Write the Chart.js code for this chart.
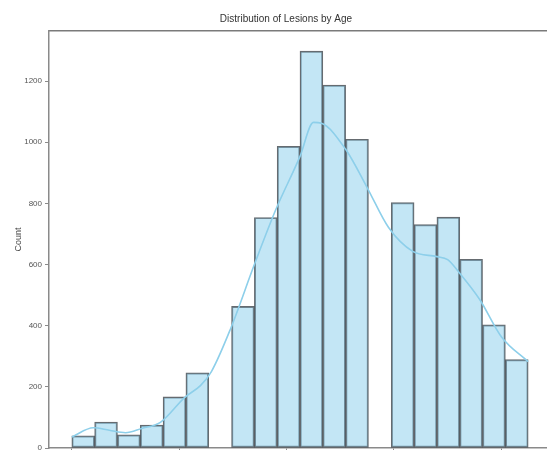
<!DOCTYPE html>
<html lang="en">
<head>
    <meta charset="UTF-8">
    <title>Distribution of Lesions by Age</title>
    <script src="https://cdn.jsdelivr.net/npm/chart.js@4.4.1/dist/chart.umd.min.js"></script>
    <style>
        * { margin: 0; padding: 0; box-sizing: border-box; }
        html, body {
            width: 547px;
            height: 450px;
            overflow: hidden;
            background: #ffffff;
        }
        .chart-wrapper {
            position: relative;
            width: 572px;
            height: 480px;
        }
    </style>
</head>
<body>
    <div class="chart-wrapper">
        <canvas id="ageChart"></canvas>
    </div>

    <script>
        // histogram bins (age 0-85, 20 bins)
        const binCenters = [2.125, 6.375, 10.625, 14.875, 19.125, 23.375, 27.625, 31.875, 36.125, 40.375,
                            44.625, 48.875, 53.125, 57.375, 61.625, 65.875, 70.125, 74.375, 78.625, 82.875];
        const binCounts = [40, 85, 43, 75, 167, 246, 0, 463, 754, 987,
                           1298, 1187, 1010, 0, 803, 731, 755, 617, 403, 289];

        // kde curve
        const kdeAge = [0, 4, 7, 10, 13, 16.5, 21, 24, 26, 29.5, 34, 38, 42.5, 45, 46.5,
                        51, 55, 59, 63.5, 68, 70, 72, 76, 80, 85];
        const kdeCount = [36, 66, 58, 50, 64, 84, 165, 205, 250, 387, 600, 780, 954, 1065, 1062,
                          977, 852, 721, 643, 626, 616, 577, 485, 364, 282];

        const xTicks = [0, 20, 40, 60, 80];
        const yTicks = [0, 200, 400, 600, 800, 1000, 1200];

        const font = "'Liberation Sans', Arial, sans-serif";
        const axisColor = '#8a8a8a';

        const config = {
            type: 'bar',
            data: {
                datasets: [
                    {
                        type: 'line',
                        label: 'kde',
                        data: kdeAge.map((a, i) => ({ x: a, y: kdeCount[i] })),
                        borderColor: '#8dcfea',
                        borderWidth: 1.6,
                        pointRadius: 0,
                        cubicInterpolationMode: 'monotone',
                        fill: false,
                        order: 0
                    },
                    {
                        label: 'Count',
                        data: binCenters.map((c, i) => ({ x: c, y: binCounts[i] })),
                        backgroundColor: 'rgba(135, 206, 235, 0.5)',
                        borderColor: 'rgba(50, 58, 64, 0.75)',
                        borderWidth: 1.3,
                        borderSkipped: false,
                        barPercentage: 1,
                        categoryPercentage: 1,
                        order: 1
                    }
                ]
            },
            options: {
                responsive: true,
                maintainAspectRatio: false,
                animation: false,
                layout: { padding: 0 },
                plugins: {
                    legend: { display: false },
                    tooltip: { enabled: false },
                    title: {
                        display: true,
                        text: 'Distribution of Lesions by Age',
                        color: '#333',
                        font: { family: font, size: 10, weight: 'normal' },
                        padding: { top: 13, bottom: 6 }
                    }
                },
                scales: {
                    x: {
                        type: 'linear',
                        position: 'bottom',
                        min: -4.25,
                        max: 89.25,
                        offset: false,
                        afterBuildTicks: s => { s.ticks = xTicks.map(v => ({ value: v })); },
                        afterFit: s => { s.height = 32; },
                        ticks: { color: '#555', font: { family: font, size: 8 }, padding: 2 },
                        grid: { display: true, drawOnChartArea: false, offset: false, tickLength: 4, color: axisColor },
                        border: { display: true, color: axisColor, width: 1.5 }
                    },
                    x2: {
                        type: 'linear',
                        position: 'top',
                        display: true,
                        min: -4.25,
                        max: 89.25,
                        afterFit: s => { s.height = 0; },
                        ticks: { display: false },
                        grid: { display: false },
                        border: { display: true, color: '#7a7a7a', width: 1.5 }
                    },
                    y: {
                        type: 'linear',
                        position: 'left',
                        min: 0,
                        max: 1364,
                        afterBuildTicks: s => { s.ticks = yTicks.map(v => ({ value: v })); },
                        afterFit: s => { s.width = 49; },
                        title: {
                            display: true,
                            text: 'Count',
                            color: '#444',
                            font: { family: font, size: 9 },
                            padding: { top: 13, bottom: 0 }
                        },
                        ticks: {
                            color: '#555',
                            font: { family: font, size: 8 },
                            padding: 3,
                            callback: v => String(v)
                        },
                        grid: { display: true, drawOnChartArea: false, tickLength: 4, color: axisColor },
                        border: { display: true, color: axisColor, width: 1.5 }
                    },
                    y2: {
                        type: 'linear',
                        position: 'right',
                        display: true,
                        min: 0,
                        max: 1364,
                        afterFit: s => { s.width = 21; },
                        ticks: { display: false },
                        grid: { display: false },
                        border: { display: true, color: axisColor, width: 1.5 }
                    }
                }
            }
        };

        const ctx = document.getElementById('ageChart').getContext('2d');
        const chart = new Chart(ctx, config);
    </script>
</body>
</html>
